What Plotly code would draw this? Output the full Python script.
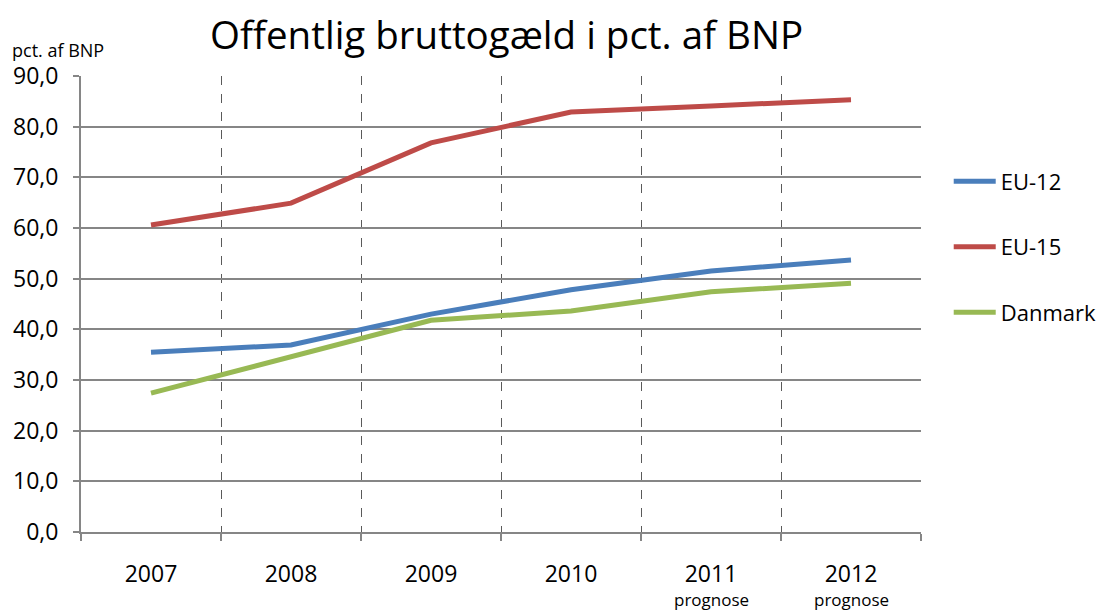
import plotly.graph_objects as go

years = ["2007", "2008", "2009", "2010", "2011", "2012"]
tick_labels = ["2007", "2008", "2009", "2010", "2011", "2012"]
forecast_years = ["2011", "2012"]
forecast_label = "prognose"
eu12 = [35.5, 36.9, 43.0, 47.8, 51.5, 53.7]
eu15 = [60.6, 64.9, 76.8, 82.9, 84.1, 85.3]
danmark = [27.4, 34.5, 41.8, 43.6, 47.4, 49.1]

FONT = "Open Sans"
fig = go.Figure()
for name, vals, col in [("EU-12", eu12, "#4A7EBB"), ("EU-15", eu15, "#BE4B48"), ("Danmark", danmark, "#98B954")]:
    fig.add_trace(go.Scatter(x=years, y=vals, name=name, mode="lines", legendgroup=name,
                             line=dict(color=col, width=5)))

# page body has an 8px margin; compensate so plot sits at 81..921 x 76..532
fig.update_layout(
    width=1108, height=603,
    margin=dict(l=73, r=195, t=68, b=79, autoexpand=False),
    paper_bgcolor="white", plot_bgcolor="white",
    separators=",.",
    font=dict(family=FONT, color="black", size=22),
    title=dict(text="Offentlig bruttogæld i pct. af BNP", x=0.45, xanchor="center",
               y=0.955, yanchor="middle", font=dict(size=38.5, family=FONT)),
    showlegend=True,
    legend=dict(x=1.033, y=0.815, xanchor="left", yanchor="top", tracegroupgap=34,
                itemwidth=42,
                font=dict(size=22, family=FONT), bgcolor="rgba(0,0,0,0)"),
    xaxis=dict(type="category", tickvals=years, ticktext=tick_labels, tickson="boundaries",
               showgrid=True, gridcolor="#5a5a5a", griddash="dash", gridwidth=1,
               showline=True, linecolor="#868686", linewidth=2, automargin=False,
               ticks="outside", ticklen=7, tickcolor="#868686", tickwidth=2,
               tickfont=dict(size=23), ticklabelstandoff=20, range=[-0.5, 5.5]),
    yaxis=dict(range=[0, 90], dtick=10, tickformat=".1f", automargin=False,
               showgrid=True, gridcolor="#868686", gridwidth=2,
               showline=True, linecolor="#868686", linewidth=2,
               ticks="outside", ticklen=6, tickcolor="#868686", tickwidth=2,
               tickfont=dict(size=23), ticklabelstandoff=10, zeroline=False),
)
fig.add_annotation(text="pct. af BNP", xref="paper", yref="paper", x=-0.085, y=1.057,
                   xanchor="left", yanchor="middle", showarrow=False, font=dict(size=18, family=FONT))
for fy in forecast_years:
    fig.add_annotation(text=forecast_label, xref="x", yref="paper", x=years.index(fy), y=-0.147,
                       xanchor="center", yanchor="middle", showarrow=False, font=dict(size=17, family=FONT))
fig.write_html("out.html")
